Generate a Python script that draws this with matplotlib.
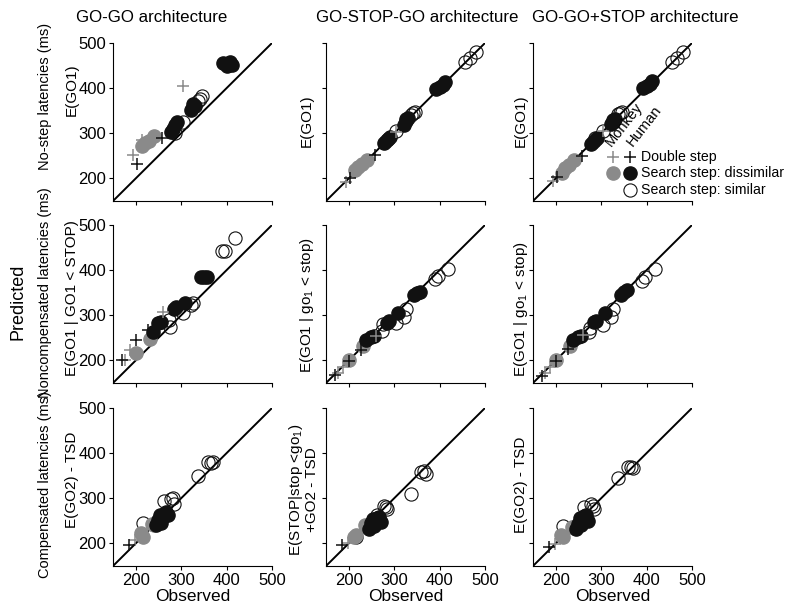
import numpy as np
import matplotlib
matplotlib.use("Agg")
import matplotlib.pyplot as plt
from matplotlib.lines import Line2D

plt.rcParams['font.family'] = ['Liberation Sans', 'DejaVu Sans']
plt.rcParams['mathtext.fontset'] = 'custom'
plt.rcParams['mathtext.rm'] = 'Liberation Sans'

# ---- data (ms) ----
# groups: mk_ds = monkey double step, hu_ds = human double step,
#         mk_dis = monkey search dissimilar, hu_dis = human search dissimilar,
#         hu_sim = human search similar
# row 1: no-step latencies
r1_obs = dict(
    mk_ds=[193, 213, 304],
    hu_ds=[202, 257],
    mk_dis=[213, 221, 230, 240],
    hu_dis=[277, 283, 287, 290, 322, 325, 327, 331, 393, 401, 408, 412],
    hu_sim=[287, 305, 338, 342, 346, 455, 466, 480])
r1_gogo = dict(
    mk_ds=[253, 285, 404],
    hu_ds=[231, 290],
    mk_dis=[271, 279, 284, 295],
    hu_dis=[303, 310, 319, 324, 352, 358, 365, 360, 455, 450, 459, 451],
    hu_sim=[301, 326, 371, 376, 382, 540, 550, 565])
r1_gsg = dict(
    mk_ds=[193, 214, 303],
    hu_ds=[200, 251],
    mk_dis=[219, 225, 231, 240],
    hu_dis=[279, 282, 288, 292, 318, 327, 331, 334, 397, 402, 408, 413],
    hu_sim=[288, 304, 340, 344, 348, 459, 466, 481])
r1_ggs = dict(
    mk_ds=[195, 215, 304],
    hu_ds=[203, 250],
    mk_dis=[211, 222, 230, 240],
    hu_dis=[277, 281, 286, 290, 320, 326, 329, 331, 400, 404, 410, 415],
    hu_sim=[290, 306, 342, 346, 348, 459, 466, 481])

# row 2: noncompensated latencies
r2_obs = dict(
    mk_ds=[176, 187, 260],
    hu_ds=[169, 201, 227],
    mk_dis=[201, 231],
    hu_dis=[238, 249, 256, 285, 289, 309, 344, 351, 358],
    hu_sim=[274, 276, 304, 322, 326, 391, 397, 419])
r2_gogo = dict(
    mk_ds=[200, 224, 307],
    hu_ds=[200, 245, 268],
    mk_dis=[217, 247],
    hu_dis=[264, 282, 286, 314, 319, 328, 385, 385, 385],
    hu_sim=[290, 273, 304, 323, 328, 442, 443, 472])
r2_gsg = dict(
    mk_ds=[172, 185, 255],
    hu_ds=[167, 198, 224],
    mk_dis=[200, 233],
    hu_dis=[245, 252, 255, 284, 288, 306, 345, 350, 352],
    hu_sim=[266, 280, 282, 297, 315, 380, 386, 403])
r2_ggs = dict(
    mk_ds=[172, 185, 257],
    hu_ds=[166, 199, 226],
    mk_dis=[200, 231],
    hu_dis=[246, 252, 255, 286, 288, 306, 345, 352, 355],
    hu_sim=[264, 272, 279, 297, 313, 377, 385, 403])

# row 3: compensated latencies
r3_obs = dict(
    mk_ds=[198],
    hu_ds=[185],
    mk_dis=[212, 216, 236, 240],
    hu_dis=[245, 250, 253, 256, 260, 263, 266, 270],
    hu_sim=[216, 263, 278, 283, 285, 337, 359, 366, 371])
r3_gogo = dict(
    mk_ds=[207],
    hu_ds=[196],
    mk_dis=[222, 215, 244, 240],
    hu_dis=[240, 252, 262, 245, 258, 266, 270, 262],
    hu_sim=[246, 293, 298, 300, 288, 350, 381, 378, 380])
r3_gsg = dict(
    mk_ds=[202],
    hu_ds=[196],
    mk_dis=[215, 218, 240, 236],
    hu_dis=[232, 245, 255, 238, 250, 256, 258, 248],
    hu_sim=[214, 262, 284, 280, 277, 309, 358, 360, 354])
r3_ggs = dict(
    mk_ds=[198],
    hu_ds=[193],
    mk_dis=[218, 214, 237, 234],
    hu_dis=[232, 244, 256, 240, 252, 260, 262, 250],
    hu_sim=[238, 280, 287, 284, 276, 344, 369, 370, 368])

observed = [r1_obs, r2_obs, r3_obs]
predicted = [[r1_gogo, r1_gsg, r1_ggs],
             [r2_gogo, r2_gsg, r2_ggs],
             [r3_gogo, r3_gsg, r3_ggs]]

titles = ['GO-GO architecture', 'GO-STOP-GO architecture', 'GO-GO+STOP architecture']
row_names = ['No-step latencies (ms)', 'Noncompensated latencies (ms)',
             'Compensated latencies (ms)']
sub = r'$\mathregular{_1}$'
ylabels = [['E(GO1)', 'E(GO1)', 'E(GO1)'],
           ['E(GO1 | GO1 < STOP)', 'E(GO1 | go' + sub + ' < stop)',
            'E(GO1 | go' + sub + ' < stop)'],
           ['E(GO2) - TSD', 'E(STOP|stop <go' + sub + ')\n+GO2 - TSD', 'E(GO2) - TSD']]
lims = [150, 500]
ticks = [200, 300, 400, 500]

GRAY = '#8a8a8a'
BLACK = '#111111'

W, H = 792, 607
fig = plt.figure(figsize=(W / 100, H / 100), dpi=100)

col_left = [113, 326, 533]
row_top = [43, 225, 408]
aw, ah = 159, 158


def style(key):
    if key == 'mk_ds':
        return dict(marker='+', ms=9, mew=1.1, color=GRAY, ls='none', zorder=5)
    if key == 'hu_ds':
        return dict(marker='+', ms=9, mew=1.1, color=BLACK, ls='none', zorder=5)
    if key == 'mk_dis':
        return dict(marker='o', ms=9.5, mfc=GRAY, mec=GRAY, ls='none', zorder=3)
    if key == 'hu_dis':
        return dict(marker='o', ms=9.5, mfc=BLACK, mec=BLACK, ls='none', zorder=4)
    return dict(marker='o', ms=9.5, mfc='none', mec=BLACK, mew=0.8, ls='none', zorder=2)


order = ['hu_sim', 'mk_dis', 'hu_dis', 'mk_ds', 'hu_ds']

for r in range(3):
    for c in range(3):
        ax = fig.add_axes([col_left[c] / W, 1 - (row_top[r] + ah) / H, aw / W, ah / H])
        ax.plot(lims, lims, color='black', lw=1.4, zorder=1)
        for key in order:
            ax.plot(observed[r][key], predicted[r][c][key], **style(key))
        ax.set_xlim(lims)
        ax.set_ylim(lims)
        ax.set_xticks(ticks)
        ax.set_yticks(ticks)
        ax.spines['top'].set_visible(False)
        ax.spines['right'].set_visible(False)
        ax.tick_params(direction='out', length=3, width=0.8, labelsize=12, pad=2)
        if r < 2:
            ax.set_xticklabels([])
        else:
            ax.set_xlabel('Observed', fontsize=12.5, labelpad=1)
        if c > 0:
            ax.set_yticklabels([])

# column titles
title_x = [152, 417, 635]
for c in range(3):
    fig.text(title_x[c] / W, 1 - 18 / H, titles[c], ha='center', va='center',
             fontsize=12.2)

# y labels
outer_y = [96, 293, 484]
inner_y = [90, 298, 480]
for r in range(3):
    fig.text(45 / W, 1 - outer_y[r] / H, row_names[r], rotation=90,
             ha='center', va='center', fontsize=10.5)
    fig.text(72 / W, 1 - inner_y[r] / H, ylabels[r][0], rotation=90,
             ha='center', va='center', fontsize=11)
mid_y = [121, 305, 490]
mid_x = [307, 307, 303]
right_y = [121, 309, 485]
for r in range(3):
    fig.text(mid_x[r] / W, 1 - mid_y[r] / H, ylabels[r][1], rotation=90,
             ha='center', va='center', fontsize=11, linespacing=1.0)
    fig.text(521 / W, 1 - right_y[r] / H, ylabels[r][2], rotation=90,
             ha='center', va='center', fontsize=11)

fig.text(18 / W, 1 - 302 / H, 'Predicted', rotation=90, ha='center', va='center',
         fontsize=13)

# legend (drawn by hand)
leg_rows = [157, 173, 190]
leg_labels = ['Double step', 'Search step: dissimilar', 'Search step: similar']
leg_keys = [('mk_ds', 'hu_ds'), ('mk_dis', 'hu_dis'), (None, 'hu_sim')]
for y, lab, keys in zip(leg_rows, leg_labels, leg_keys):
    for x, key in zip([613, 630], keys):
        if key is None:
            continue
        st = style(key)
        st.pop('zorder')
        fig.add_artist(Line2D([x / W], [1 - y / H], transform=fig.transFigure, **st))
    fig.text(641 / W, 1 - y / H, lab, ha='left', va='center', fontsize=10.2)

fig.text(611 / W, 1 - 147 / H, 'Monkey', rotation=52, rotation_mode='anchor',
         ha='left', va='baseline', fontsize=10.5)
fig.text(633 / W, 1 - 147 / H, 'Human', rotation=52, rotation_mode='anchor',
         ha='left', va='baseline', fontsize=10.5)

plt.savefig('out.png', dpi=100)
